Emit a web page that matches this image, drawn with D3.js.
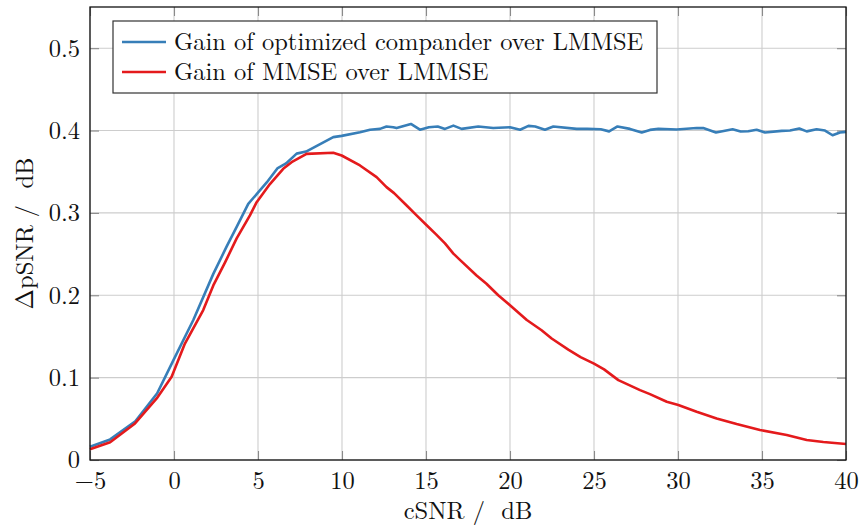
<!DOCTYPE html>
<html>
<head>
<meta charset="utf-8">
<script src="https://cdn.jsdelivr.net/npm/d3@7"></script>
<style>
  html, body { margin: 0; padding: 0; background: #fff; }
</style>
</head>
<body>
<div id="chart"></div>
<script>
/*
 * Data.
 */
var seriesNames = ["Gain of optimized compander over LMMSE", "Gain of MMSE over LMMSE"];

var compX = [-5, -3.8, -2.3, -1.0, -0.04, 1.15, 2.34, 3.13, 3.73, 4.42, 5.52, 6.15, 6.67, 7.3, 7.86,
  9.48, 9.98, 11.07, 11.67, 12.26, 12.65, 13.05, 13.25, 14.1, 14.64, 15.17, 15.7, 16.13, 16.63, 17.12,
  18.11, 19.0, 20.0, 20.6, 21.1, 21.5, 22.08, 22.58, 23.97, 24.6, 25.4, 25.9, 26.4, 27.14, 27.84,
  28.33, 28.83, 29.92, 31.11, 31.5, 32.26, 33.25, 33.73, 34.18, 34.68, 35.18, 36.17, 36.67, 37.22,
  37.66, 38.25, 38.75, 39.2, 39.64, 40];
var compY = [0.016, 0.025, 0.047, 0.081, 0.121, 0.17, 0.226, 0.259, 0.283, 0.311, 0.337, 0.354, 0.36, 0.372, 0.3745,
  0.392, 0.3935, 0.398, 0.401, 0.402, 0.405, 0.404, 0.403, 0.408, 0.401, 0.404, 0.405, 0.402, 0.406, 0.402,
  0.405, 0.403, 0.404, 0.401, 0.4057, 0.405, 0.401, 0.405, 0.402, 0.402, 0.4015, 0.399, 0.405, 0.402, 0.3976,
  0.4008, 0.402, 0.4012, 0.403, 0.403, 0.3976, 0.4016, 0.3988, 0.3992, 0.401, 0.3976, 0.3996, 0.40, 0.4024,
  0.399, 0.4016, 0.40, 0.3943, 0.3976, 0.3984];

var mmseX = [-5, -3.8, -2.32, -1.03, -0.14, 0.65, 1.74, 2.34, 3.04, 3.73, 4.52, 4.92, 5.71, 6.5, 7.0, 7.89,
  9.48, 9.98, 11.07, 12.06, 12.65, 13.1, 13.85, 14.44, 15.04, 15.6, 16.13, 16.63, 17.02, 18.01, 18.6,
  19.3, 20.0, 21.0, 21.88, 22.48, 23.47, 24.2, 25.0, 25.6, 26.45, 27.74, 28.33, 29.33, 30.02, 31.11,
  32.3, 33.49, 34.88, 36.47, 37.66, 38.65, 40];
var mmseY = [0.013, 0.0215, 0.0444, 0.0747, 0.101, 0.1414, 0.182, 0.212, 0.240, 0.269, 0.297, 0.313, 0.335, 0.3535, 0.3616, 0.3717,
  0.373, 0.3697, 0.3576, 0.3434, 0.3313, 0.324, 0.309, 0.297, 0.285, 0.274, 0.263, 0.2505, 0.243, 0.224, 0.214,
  0.2, 0.188, 0.17, 0.1576, 0.1475, 0.134, 0.125, 0.117, 0.11, 0.097, 0.0848, 0.08, 0.0707, 0.0667, 0.0586,
  0.0505, 0.0436, 0.0364, 0.0303, 0.0242, 0.0218, 0.0194];

var xTicks = [-5, 0, 5, 10, 15, 20, 25, 30, 35, 40];
var yTicks = [0, 0.1, 0.2, 0.3, 0.4, 0.5];

var colors = ["#377eb8", "#e41a1c"];

var font = '"Latin Modern Roman"'
  , fontSize = '24.5px';

var width = 867
  , height = 528
  , margin = {top: 7, right: 21, bottom: 68, left: 90}
  , innerW = width - margin.left - margin.right
  , innerH = height - margin.top - margin.bottom;

var svg = d3.select('#chart').append('svg')
  .attr('width', width)
  .attr('height', height);

var g = svg.append('g')
  .attr('transform', 'translate(' + margin.left + ',' + margin.top + ')');

var x = d3.scaleLinear().domain([-5, 40]).range([0, innerW]);
var y = d3.scaleLinear().domain([0, 0.55]).range([innerH, 0]);

/*
 * Grid
 */
g.append('g').selectAll('line.vx')
  .data(xTicks)
  .enter().append('line')
  .attr('x1', function(d) { return x(d); })
  .attr('x2', function(d) { return x(d); })
  .attr('y1', 0).attr('y2', innerH)
  .attr('stroke', '#cdcdcd').attr('stroke-width', 1.1);

g.append('g').selectAll('line.hy')
  .data(yTicks)
  .enter().append('line')
  .attr('y1', function(d) { return y(d); })
  .attr('y2', function(d) { return y(d); })
  .attr('x1', 0).attr('x2', innerW)
  .attr('stroke', '#cdcdcd').attr('stroke-width', 1.1);

/*
 * Axes, ticks pointing inward on all four sides
 */
var tickLen = 9;
function styleAxis(sel) {
  sel.select('.domain').remove();
  sel.selectAll('.tick line').attr('stroke', '#8a8a8a').attr('stroke-width', 1.1);
  sel.selectAll('.tick text')
    .attr('fill', '#111')
    .style('font-family', font)
    .style('font-size', fontSize);
}

g.append('g')
  .attr('transform', 'translate(0,' + innerH + ')')
  .call(d3.axisBottom(x).tickValues(xTicks).tickSizeInner(-tickLen).tickSizeOuter(0).tickPadding(12)
    .tickFormat(function(d) { return d < 0 ? '\u2212' + Math.abs(d) : d; }))
  .call(styleAxis);

g.append('g')
  .call(d3.axisTop(x).tickValues(xTicks).tickSizeInner(-tickLen).tickSizeOuter(0).tickFormat(''))
  .call(styleAxis);

g.append('g')
  .call(d3.axisLeft(y).tickValues(yTicks).tickSizeInner(-tickLen).tickSizeOuter(0).tickPadding(10)
    .tickFormat(function(d) { return d === 0 ? '0' : d3.format('.1f')(d); }))
  .call(styleAxis);

g.append('g')
  .attr('transform', 'translate(' + innerW + ',0)')
  .call(d3.axisRight(y).tickValues(yTicks).tickSizeInner(-tickLen).tickSizeOuter(0).tickFormat(''))
  .call(styleAxis);

/*
 * Lines
 */
var line = d3.line()
  .x(function(d) { return x(d[0]); })
  .y(function(d) { return y(d[1]); });

var series = [d3.zip(compX, compY), d3.zip(mmseX, mmseY)];

g.append('g').selectAll('path.series')
  .data(series)
  .enter().append('path')
  .attr('d', line)
  .attr('fill', 'none')
  .attr('stroke', function(d, i) { return colors[i]; })
  .attr('stroke-width', 2.6)
  .attr('stroke-linejoin', 'round');

/*
 * Frame
 */
g.append('rect')
  .attr('width', innerW).attr('height', innerH)
  .attr('fill', 'none').attr('stroke', '#111').attr('stroke-width', 1.3);

/*
 * Legend
 */
var legend = g.append('g').attr('transform', 'translate(' + (113 - margin.left) + ',' + (21 - margin.top) + ')');

legend.append('rect')
  .attr('width', 544).attr('height', 72)
  .attr('fill', '#fff').attr('stroke', '#333').attr('stroke-width', 1.2);

legend.selectAll('line')
  .data(seriesNames)
  .enter().append('line')
  .attr('x1', 9).attr('x2', 53)
  .attr('y1', function(d, i) { return 21 + i * 30; })
  .attr('y2', function(d, i) { return 21 + i * 30; })
  .attr('stroke', function(d, i) { return colors[i]; })
  .attr('stroke-width', 2.6);

legend.selectAll('text')
  .data(seriesNames)
  .enter().append('text')
  .attr('x', 61)
  .attr('y', function(d, i) { return 29 + i * 30; })
  .attr('fill', '#111')
  .style('font-family', font)
  .style('font-size', fontSize)
  .text(function(d) { return d; });

/*
 * Axis labels
 */
svg.append('text')
  .attr('x', margin.left + innerW / 2)
  .attr('y', 519)
  .attr('text-anchor', 'middle')
  .attr('fill', '#111')
  .style('font-family', font)
  .style('font-size', fontSize)
  .style('white-space', 'pre')
  .text('cSNR /  dB');

svg.append('text')
  .attr('transform', 'translate(33,' + (margin.top + innerH / 2) + ') rotate(-90)')
  .attr('text-anchor', 'middle')
  .attr('fill', '#111')
  .style('font-family', font)
  .style('font-size', fontSize)
  .style('white-space', 'pre')
  .text('\u0394pSNR /  dB');
</script>
</body>
</html>
